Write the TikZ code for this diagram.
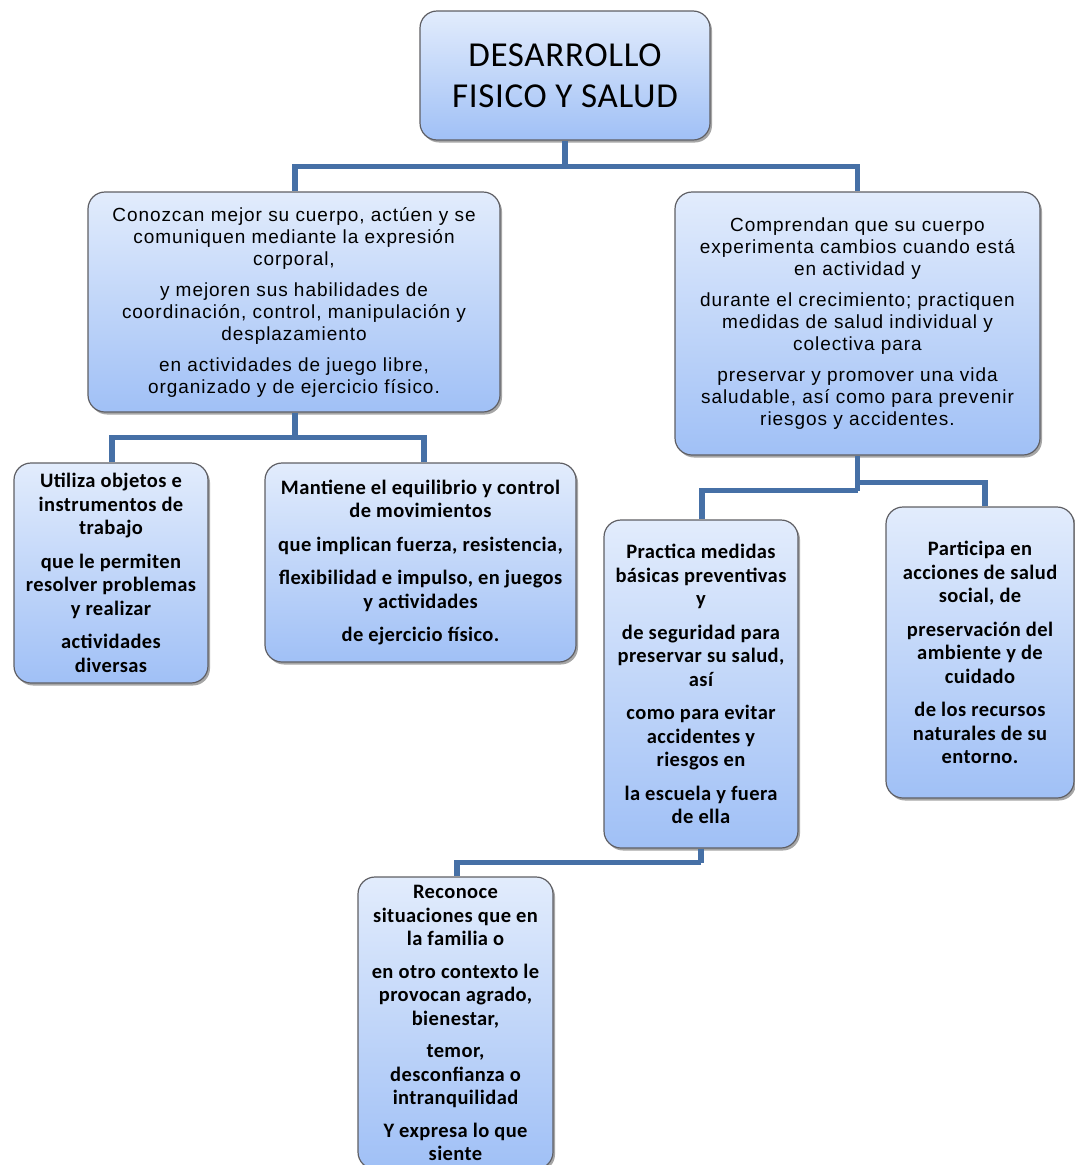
\documentclass[tikz,border=0pt]{standalone}
\usepackage{fontspec}
\setmainfont{Carlito}
\newfontfamily\arialf[LetterSpace=5]{Liberation Sans}
\newfontfamily\calibb[LetterSpace=2]{Carlito}
\usetikzlibrary{shadows}
\definecolor{linkc}{RGB}{70,112,166}
\definecolor{boxtop}{RGB}{226,236,252}
\definecolor{boxbot}{RGB}{160,192,246}
\definecolor{boxline}{RGB}{95,95,100}
\tikzset{
  box/.style={draw=boxline, line width=1.2pt, rounded corners=17pt,
    top color=boxtop, bottom color=boxbot, align=center, inner sep=0pt,
    drop shadow={shadow xshift=2pt, shadow yshift=-2.5pt, fill=black, opacity=0.35}},
  titlebox/.style={box, font={\calibb\fontsize{35}{41}\selectfont}},
  mainbox/.style={box, font={\arialf\fontsize{19}{22}\selectfont}},
  subbox/.style={box, font={\calibb\bfseries\fontsize{20.5}{23.5}\selectfont}},
  link/.style={draw=linkc, line width=5.5pt}
}
\begin{document}
\begin{tikzpicture}[x=1pt,y=-1pt]
\useasboundingbox (0,0) rectangle (1075,1165);
\clip (0,0) rectangle (1075,1165);

\node[titlebox, minimum width=290pt, minimum height=129pt] (title) at (565,75.5)
  {DESARROLLO\\FISICO Y SALUD};

\node[mainbox, minimum width=412pt, minimum height=220pt] (l1a) at (294,302)
  {Conozcan mejor su cuerpo, actúen y se\\ comuniquen mediante la expresión\\ corporal,\\[9pt]
   y mejoren sus habilidades de\\ coordinación, control, manipulación y\\ desplazamiento\\[9pt]
   en actividades de juego libre,\\ organizado y de ejercicio físico.};

\node[mainbox, minimum width=365pt, minimum height=263pt] (l1b) at (857.5,323.5)
  {Comprendan que su cuerpo\\ experimenta cambios cuando está\\ en actividad y\\[9pt]
   durante el crecimiento; practiquen\\ medidas de salud individual y\\ colectiva para\\[9pt]
   preservar y promover una vida\\ saludable, así como para prevenir\\ riesgos y accidentes.};

\node[subbox, minimum width=194pt, minimum height=220pt] (util) at (111,573)
  {Utiliza objetos e\\ instrumentos de\\ trabajo\\[10pt]
   que le permiten\\ resolver problemas\\ y realizar\\[10pt]
   actividades\\ diversas};

\node[subbox, minimum width=311pt, minimum height=199pt] (mant) at (420.5,562.5)
  {Mantiene el equilibrio y control\\ de movimientos\\[10pt]
   que implican fuerza, resistencia,\\[10pt]
   flexibilidad e impulso, en juegos\\ y actividades\\[10pt]
   de ejercicio físico.};

\node[subbox, minimum width=194pt, minimum height=328pt] (prac) at (701,684)
  {Practica medidas\\ básicas preventivas\\ y\\[10pt]
   de seguridad para\\ preservar su salud,\\ así\\[10pt]
   como para evitar\\ accidentes y\\ riesgos en\\[10pt]
   la escuela y fuera\\ de ella};

\node[subbox, minimum width=188pt, minimum height=291pt] (part) at (980,652.5)
  {Participa en\\ acciones de salud\\ social, de\\[10pt]
   preservación del\\ ambiente y de\\ cuidado\\[10pt]
   de los recursos\\ naturales de su\\ entorno.};

\node[subbox, minimum width=195pt, minimum height=292pt] (reco) at (455.5,1023)
  {Reconoce\\ situaciones que en\\ la familia o\\[9pt]
   en otro contexto le\\ provocan agrado,\\ bienestar,\\[9pt]
   temor,\\ desconfianza o\\ intranquilidad\\[9pt]
   Y expresa lo que\\ siente};

% connectors
\coordinate (j0) at ([yshift=-26pt]title.south);
\draw[link] (title.south) -- (j0);
\draw[link] (j0) -| ([xshift=1pt]l1a.north);
\draw[link] (j0) -| (l1b.north);

\coordinate (j1) at ([yshift=-25pt]l1a.south);
\draw[link] ([xshift=1pt]l1a.south) -- ([xshift=1pt]j1);
\draw[link] ([xshift=1pt]j1) -| ([xshift=1pt]util.north);
\draw[link] ([xshift=1pt]j1) -| ([xshift=3.5pt]mant.north);

\coordinate (j2) at ([yshift=-35pt]l1b.south);
\coordinate (j3) at ([yshift=-27pt]l1b.south);
\draw[link] (l1b.south) -- (j2);
\draw[link] (j2) -| ([xshift=1pt]prac.north);
\draw[link] (j3) -| ([xshift=5pt]part.north);

\coordinate (j4) at ([yshift=-14pt]prac.south);
\draw[link] (prac.south) -- (j4);
\draw[link] (j4) -| ([xshift=1.5pt]reco.north);
\end{tikzpicture}
\end{document}
